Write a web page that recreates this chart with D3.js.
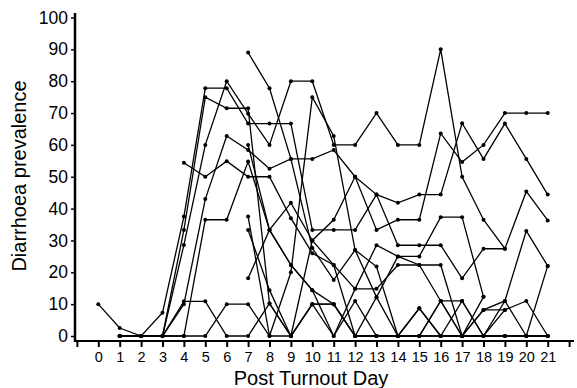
<!DOCTYPE html>
<html>
<head>
<meta charset="utf-8">
<script src="https://cdn.jsdelivr.net/npm/d3@7"></script>
<style>
  body { margin: 0; background: #fff; }
  svg { display: block; font-family: "Liberation Sans", Arial, sans-serif; }
</style>
</head>
<body>
<div id="chart"></div>
<script>
// days post turnout
const days = d3.range(0, 22);
const xTickValues = d3.range(-1, 23);
const yTickValues = d3.range(0, 101, 10);

// one array per group, prevalence (%) per day, null = not sampled
const groupA = [10, 2.5, 0, 7.3, 37.5, 77.8, 77.8, 66.7, 66.7, 66.7, 33.3, 33.3, 33.3, 44.4, 41.8, 44.4, 44.4, 66.8, 55.6, 66.7, 55.6, 44.4];
const groupB = [null, 0, 0, 0, 33.3, 75, 71.5, 71.5, 10.2, 0, 30, 36.5, 50, 33.3, 36.5, 36.5, 63.6, 54.6, 60, 70, 70, 70];
const groupC = [null, 0, 0, 0, 28.6, 60, 80, 69.8, 60, 80, 80, 60, 60, 70, 60, 60, 90, 50, 36.5, 27.4, 45.4, 36.3];
const groupD = [null, 0, 0, 0, 10.9, 10.9, 0, 0, 10.2, 0, 10, 0, 11, 0, 0, 8.7, 0, 11, 0, 11, 0, 22];
const groupE = [null, 0, 0, 0, 0, 0, 10, 10, 0, 0, 10, 10, 0, 0, 0, 0, 11, 11, 0, 8.2, 11, 0];
const groupF = [null, null, null, null, 54.4, 50, 54.9, 50, 50, 37, 26, 22.3, 14.8, 14.8, 22.3, 22.3, 22.3, 0, 8.2, 11, 33, 22];
const groupG = [null, 0, 0, 0, 10, 43, 62.8, 58.4, 52.5, 55.6, 55.6, 58.4, 50, 44.4, 28.5, 28.5, 28.5, 18.1, 27.4, 27.4, null, null];
const groupH = [null, 0, 0, 0, 0, 36.5, 36.5, 54.8, 33.3, 22.3, 14.4, 0, 14.8, 28.5, 25, 25, 37.3, 37.3, 12.3, null, null, null];
const groupI = [null, null, null, null, null, null, null, 89, 77.8, 55.6, 27.6, 17.6, 27, 21.8, 0, 0, 11, 0, 0, 0, 0, 0];
const groupJ = [null, null, null, null, null, null, null, 18.1, 33.3, 41.8, 30, 22.3, 0, 12.2, 25, 22.3, 11, 0, 8.2, 8.2, null, null];
const groupK = [null, null, null, null, null, null, null, 33.3, 14.4, 0, 10, 10, 0, 0, 0, 0, 0, 0, 0, 0, 0, 0];
const groupL = [null, null, null, null, null, null, null, 37.5, 0, 20, 75, 62.8, 27, 12.2, 0, 8.7, 0, 0, 12.3, null, null, null];
const groupM = [null, null, null, null, null, null, null, 60, 33.3, 22.3, 14.4, 10, 0, 0, 0, 0, 0, 0, 0, 0, 0, 0];

const groups = [groupA, groupB, groupC, groupD, groupE, groupF, groupG, groupH, groupI, groupJ, groupK, groupL, groupM];

const width = 577, height = 388;

const svg = d3.select("#chart").append("svg")
  .attr("width", width)
  .attr("height", height);

const x = d3.scaleLinear().domain([0, 21]).range([98.3, 547.7]);
const y = d3.scaleLinear().domain([0, 100]).range([336, 17.5]);

const axisY = 341;  // x axis sits a bit under zero
const axisX = 75;

// x axis
const gx = svg.append("g")
  .attr("transform", "translate(0," + axisY + ")")
  .call(d3.axisBottom(x)
    .tickValues(xTickValues)
    .tickFormat(d => (d >= 0 && d <= 21) ? d : "")
    .tickSize(6)
    .tickPadding(5));
gx.select(".domain").remove();
gx.selectAll(".tick line").attr("stroke", "#000").attr("stroke-width", 2);
gx.selectAll(".tick text")
  .attr("fill", "#000")
  .style("font-size", "14.5px");
svg.append("line")
  .attr("x1", axisX).attr("x2", 574)
  .attr("y1", axisY).attr("y2", axisY)
  .attr("stroke", "#000").attr("stroke-width", 2);

// y axis
const gy = svg.append("g")
  .attr("transform", "translate(" + axisX + ",0)")
  .call(d3.axisLeft(y)
    .tickValues(yTickValues)
    .tickSize(4)
    .tickPadding(3));
gy.select(".domain").remove();
gy.selectAll(".tick line").attr("stroke", "#000").attr("stroke-width", 1.5);
gy.selectAll(".tick text")
  .attr("fill", "#000")
  .style("font-size", "17.5px");
svg.append("line")
  .attr("x1", axisX).attr("x2", axisX)
  .attr("y1", 13).attr("y2", axisY + 1)
  .attr("stroke", "#000").attr("stroke-width", 2.5);

// axis titles
svg.append("text")
  .attr("x", 311).attr("y", 385)
  .attr("text-anchor", "middle")
  .style("font-size", "20px")
  .text("Post Turnout Day");

svg.append("text")
  .attr("transform", "translate(26,176) rotate(-90)")
  .attr("text-anchor", "middle")
  .style("font-size", "20px")
  .text("Diarrhoea prevalence");

// lines
const line = d3.line()
  .defined(d => d != null)
  .x((d, i) => x(days[i]))
  .y(d => y(d));

svg.append("g")
  .selectAll("path")
  .data(groups)
  .enter()
  .append("path")
  .attr("d", line)
  .attr("fill", "none")
  .attr("stroke", "#000")
  .attr("stroke-width", 1.3);

// points
groups.forEach(g => {
  svg.append("g")
    .selectAll("circle")
    .data(g.map((v, i) => ({ day: days[i], v: v })).filter(d => d.v != null))
    .enter()
    .append("circle")
    .attr("cx", d => x(d.day))
    .attr("cy", d => y(d.v))
    .attr("r", 2)
    .attr("fill", "#000");
});
</script>
</body>
</html>
